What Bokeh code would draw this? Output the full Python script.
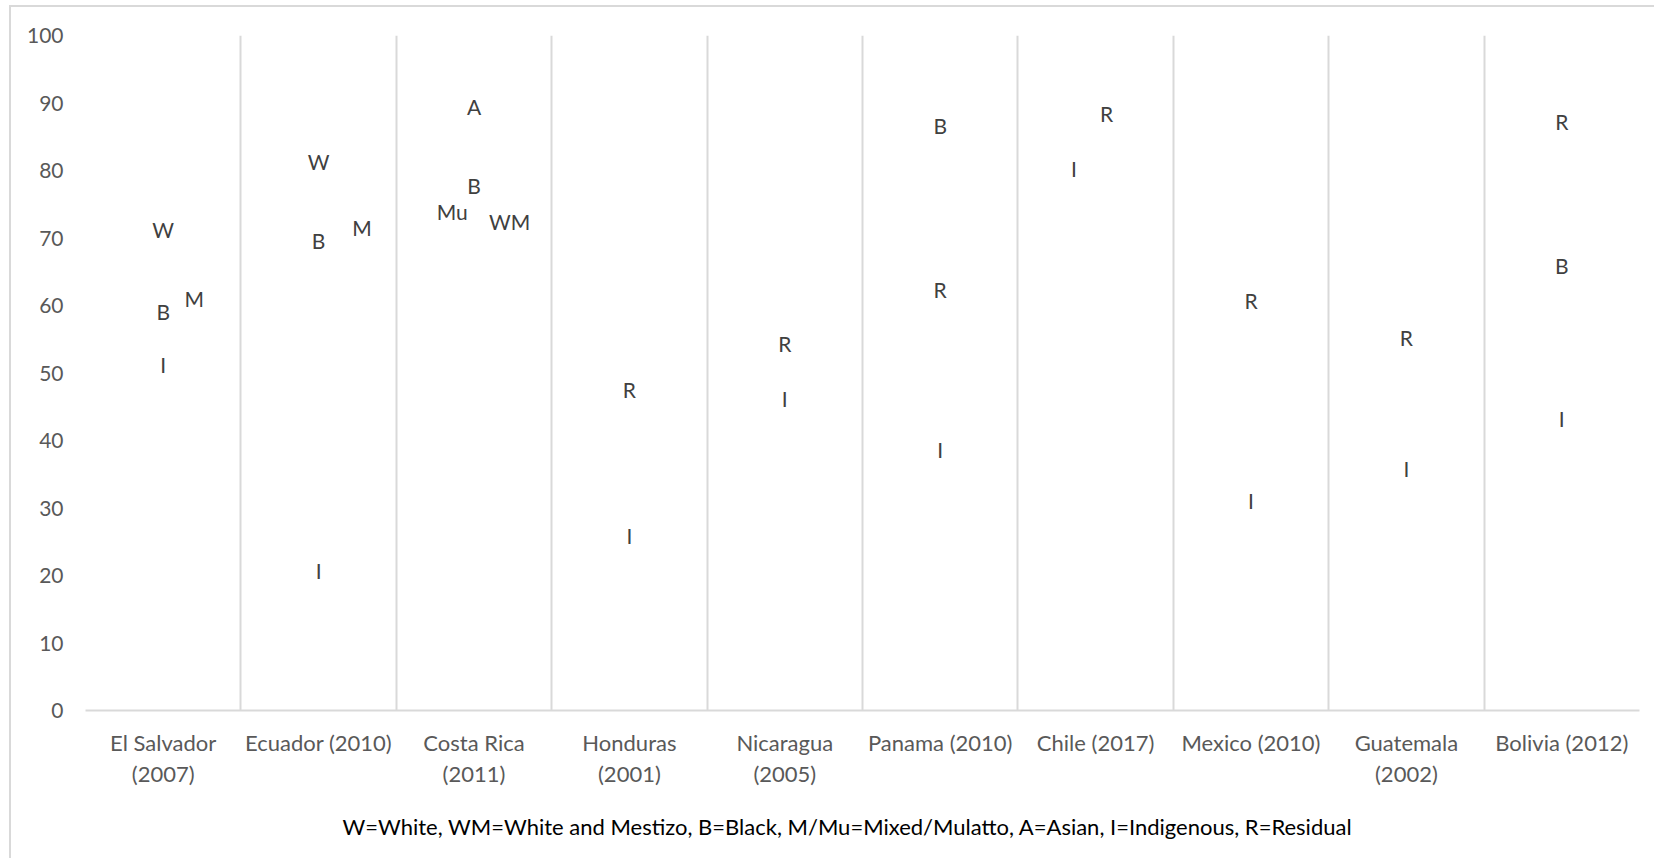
from bokeh.plotting import figure
from bokeh.models import FixedTicker, Range1d, ColumnDataSource, Title
from bokeh.core.properties import value
from bokeh.embed import file_html
from bokeh.resources import INLINE

# ---- data ----
countries = ["El Salvador\n(2007)", "Ecuador (2010)", "Costa Rica\n(2011)", "Honduras\n(2001)",
             "Nicaragua\n(2005)", "Panama (2010)", "Chile (2017)", "Mexico (2010)",
             "Guatemala\n(2002)", "Bolivia (2012)"]
y_ticks = [0, 10, 20, 30, 40, 50, 60, 70, 80, 90, 100]

point_country = [0, 0, 0, 0,
                 1, 1, 1, 1,
                 2, 2, 2, 2,
                 3, 3,
                 4, 4,
                 5, 5, 5,
                 6, 6,
                 7, 7,
                 8, 8,
                 9, 9, 9]
point_label = ["W", "B", "M", "I",
               "W", "B", "M", "I",
               "A", "B", "Mu", "WM",
               "R", "I",
               "R", "I",
               "B", "R", "I",
               "I", "R",
               "R", "I",
               "R", "I",
               "R", "B", "I"]
point_value = [71.3, 59.1, 61.0, 51.2,
               81.4, 69.6, 71.5, 20.8,
               89.5, 77.8, 73.9, 72.5,
               47.6, 26.0,
               54.3, 46.2,
               86.7, 62.4, 38.7,
               80.3, 88.4,
               60.7, 31.1,
               55.2, 35.8,
               87.3, 66.0, 43.2]
point_shift = [0, 0, 0.20, 0,
               0, 0, 0.28, 0,
               0, 0, -0.14, 0.23,
               0, 0,
               0, 0,
               0, 0, 0,
               -0.14, 0.07,
               0, 0,
               0, 0,
               0, 0, 0]
caption = "W=White, WM=White and Mestizo, B=Black, M/Mu=Mixed/Mulatto, A=Asian, I=Indigenous, R=Residual"

FONT = "Lato"
GRID = "#d9d9d9"

p = figure(width=1645, height=853, output_backend="svg", toolbar_location=None,
           x_range=Range1d(0, len(countries)), y_range=Range1d(0, 100),
           min_border_left=74, min_border_right=17, min_border_top=28, min_border_bottom=150,
           styles={"border-left": "2px solid #d9d9d9", "border-top": "2px solid #d9d9d9",
                   "margin-left": "9px", "margin-top": "5px"})
p.outline_line_color = None
p.background_fill_color = "white"
p.border_fill_color = "white"

xs = [c + 0.5 + s for c, s in zip(point_country, point_shift)]
src = ColumnDataSource(dict(x=xs, y=point_value, t=point_label))
p.text(x="x", y="y", text="t", source=src, text_align="center", text_baseline="middle",
       text_font=value(FONT), text_font_size="21px", text_color="#404040")

# axes
p.xaxis.ticker = FixedTicker(ticks=[i + 0.5 for i in range(len(countries))])
p.xaxis.major_label_overrides = {i + 0.5: c for i, c in enumerate(countries)}
p.xaxis.major_tick_line_color = None
p.xaxis.minor_tick_line_color = None
p.xaxis.axis_line_color = GRID
p.xaxis.axis_line_width = 2
p.xaxis.major_label_text_font = FONT
p.xaxis.major_label_text_font_size = "22px"
p.xaxis.major_label_text_line_height = 1.17
p.xaxis.major_label_text_color = "#595959"
p.xaxis.major_label_standoff = 12

# caption below the category labels
p.add_layout(Title(text=caption, align="left", offset=257, standoff=40,
                   text_font=FONT, text_font_style="normal", text_font_size="22px",
                   text_color="#000000"), "below")

p.yaxis.ticker = FixedTicker(ticks=y_ticks)
p.yaxis.major_tick_line_color = None
p.yaxis.minor_tick_line_color = None
p.yaxis.axis_line_color = None
p.yaxis.major_label_text_font = FONT
p.yaxis.major_label_text_font_size = "21px"
p.yaxis.major_label_text_color = "#595959"
p.yaxis.major_label_standoff = 16

p.ygrid.grid_line_color = None
p.xgrid.ticker = FixedTicker(ticks=list(range(len(countries) + 1)))
p.xgrid.grid_line_color = GRID
p.xgrid.grid_line_width = 2

open("out.html", "w").write(file_html(p, INLINE))
